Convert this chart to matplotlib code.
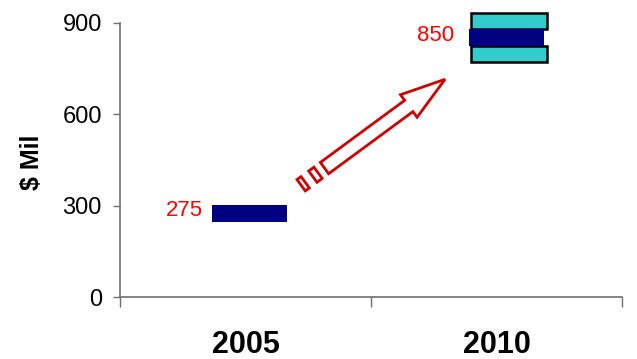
import numpy as np
import matplotlib
matplotlib.use("Agg")
import matplotlib.pyplot as plt
from matplotlib.patches import Rectangle, Polygon

plt.rcParams['font.family'] = ['Liberation Sans', 'DejaVu Sans']

# chart data
years = ["2005", "2010"]
values = [275, 850]
range_2010 = [772, 930]
y_ticks = [0, 300, 600, 900]

# arrow endpoints (data units)
arrow_start = (0.31, 420)
arrow_end = (0.795, 714)

navy = "#000080"
cyan = "#33cccc"
axis_gray = "#707070"

fig = plt.figure(figsize=(6.37, 3.59), dpi=100)
ax = fig.add_axes([120 / 637, 62 / 359, 502 / 637, 274.4 / 359])
ax.set_xlim(-0.5, 1.5)
ax.set_ylim(0, 900)

bar_w = 0.3
marker_h = 56
x = np.arange(len(years))
x_bar = x + np.array([0.016, 0.04])

# 2010 range split into an upper and lower box around the marker
lo, hi = range_2010
mid_lo, mid_hi = values[1] - marker_h / 2, values[1] + marker_h / 2
for b0, b1 in [(lo, mid_lo), (mid_hi, hi)]:
    ax.add_patch(Rectangle((x_bar[1] - bar_w / 2 + 0.01, b0), bar_w, b1 - b0,
                           facecolor=cyan, edgecolor="black", linewidth=1.8,
                           clip_on=False, zorder=2))

# value markers
ax.bar(x_bar, marker_h, bottom=np.array(values) - marker_h / 2, width=bar_w,
       color=navy, zorder=3)

for xi, v in zip(x, values):
    ax.text(xi - 0.17, v + 8, str(v), ha="right", va="center", color="red",
            fontsize=16)

# hollow block arrow with two stripes at the tail, built in pixel space
trans = ax.transData
p0 = trans.transform(arrow_start)
p1 = trans.transform(arrow_end)
L = np.hypot(*(p1 - p0))
u = (p1 - p0) / L
n = np.array([-u[1], u[0]])
k = fig.dpi / 100


def pt(s, w):
    return p0 + u * s * k + n * w * k


L = L / k
hw, head_hw, head_len = 7, 14, 45
shapes = [
    [pt(1.5, -hw), pt(L - head_len, -hw), pt(L - head_len, -head_hw), pt(L, 0),
     pt(L - head_len, head_hw), pt(L - head_len, hw), pt(1.5, hw)],
    [pt(-13, -hw), pt(-6.5, -hw), pt(-6.5, hw), pt(-13, hw)],
    [pt(-27.5, -hw), pt(-22.5, -hw), pt(-22.5, hw), pt(-27.5, hw)],
]
inv = trans.inverted()
for shp in shapes:
    ax.add_patch(Polygon(inv.transform(np.array(shp)), closed=True,
                         facecolor="white", edgecolor="#cc0000", linewidth=2.0,
                         joinstyle="miter", clip_on=False, zorder=4))

# axes styling
for side in ["top", "right"]:
    ax.spines[side].set_visible(False)
for side in ["left", "bottom"]:
    ax.spines[side].set_color(axis_gray)
    ax.spines[side].set_linewidth(1.2)

ax.set_yticks(y_ticks)
ax.tick_params(axis="y", direction="out", length=5, width=1, color=axis_gray,
               pad=8, labelsize=17)

ax.set_xticks([-0.5, 0.5, 1.5])
ax.set_xticklabels([])
ax.tick_params(axis="x", which="major", direction="out", length=7, width=1,
               color=axis_gray)
ax.set_xticks(x, minor=True)
ax.set_xticklabels(years, minor=True)
ax.tick_params(axis="x", which="minor", length=0, pad=24)
for lbl in ax.get_xticklabels(minor=True):
    lbl.set_fontfamily(["Liberation Sans Narrow", "Liberation Sans"])
    lbl.set_fontweight("bold")
    lbl.set_fontsize(22)

fig.text(32 / 637, 1 - 162 / 359, "$ Mil", rotation=90, ha="center",
         va="center", fontsize=18, fontweight="bold")

fig.savefig("out.png", dpi=100)
